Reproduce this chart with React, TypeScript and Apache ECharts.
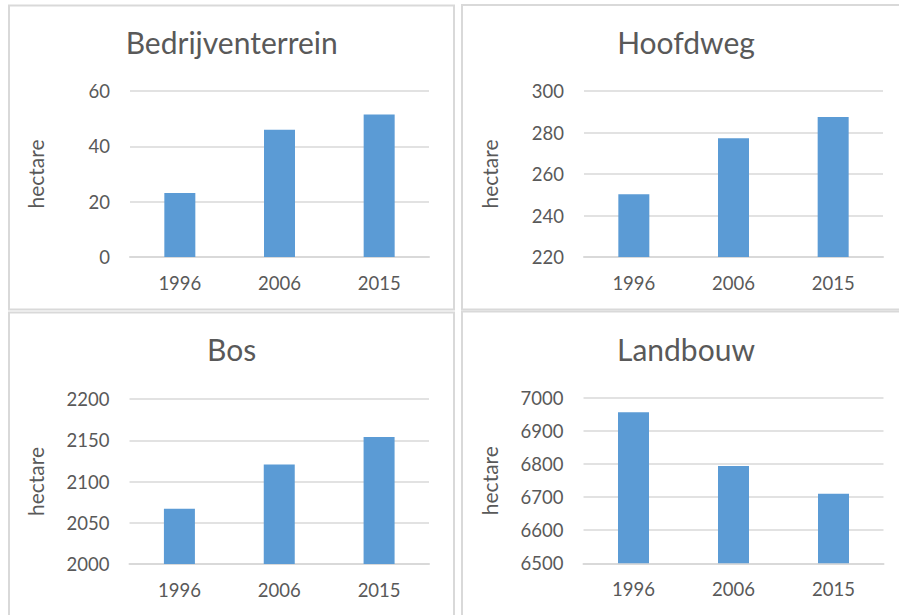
import React, { useEffect, useRef } from "react";
import * as echarts from "echarts";

const years = ["1996", "2006", "2015"];
const titles = ["Bedrijventerrein", "Hoofdweg", "Bos", "Landbouw"];
const bedrijventerrein = [23.1, 46.0, 51.5];
const hoofdweg = [250.2, 277.2, 287.5];
const bos = [2067, 2120.5, 2154];
const landbouw = [6957, 6794, 6710];
const axisMin = [0, 220, 2000, 6500];
const axisMax = [60, 300, 2200, 7000];
const axisStep = [20, 20, 50, 100];
const yName = "hectare";

const seriesValues = [bedrijventerrein, hoofdweg, bos, landbouw];

const FONT = "Lato";
const TEXT = "#595959";
const LINE = "#D9D9D9";
const BAR = "#5B9BD5";

const grids = [
  { left: 130, top: 91, width: 299, height: 166 },
  { left: 584, top: 91, width: 299, height: 166 },
  { left: 129.5, top: 399, width: 299.5, height: 165 },
  { left: 583.5, top: 398, width: 300, height: 165.3 },
];
const titlePos = [
  [231.7, 42],
  [686, 42],
  [231.7, 348.5],
  [686, 348.5],
];
const borders = [
  { x: 9, y: 5.5, width: 445, height: 304 },
  { x: 462, y: 5, width: 440, height: 304.5 },
  { x: 9, y: 312.5, width: 445, height: 310 },
  { x: 462, y: 311.5, width: 440, height: 310 },
];

export default function App() {
  const ref = useRef<HTMLDivElement>(null);
  useEffect(() => {
    if (!ref.current) return;
    const chart = echarts.init(ref.current, undefined, { renderer: "svg" });
    const option: any = {
      animation: false,
      backgroundColor: "#ffffff",
      grid: grids.map((g) => ({ ...g, containLabel: false })),
      xAxis: grids.map((_, i) => ({
        type: "category",
        gridIndex: i,
        data: years,
        axisTick: { show: false },
        axisLine: { show: true, lineStyle: { color: LINE, width: 2 } },
        axisLabel: { color: TEXT, fontFamily: FONT, fontSize: 18.5, margin: 16 },
      })),
      yAxis: grids.map((_, i) => ({
        type: "value",
        gridIndex: i,
        min: axisMin[i],
        max: axisMax[i],
        interval: axisStep[i],
        name: yName,
        nameLocation: "middle",
        nameRotate: 90,
        nameGap: 84,
        nameTextStyle: { color: TEXT, fontFamily: FONT, fontSize: 21 },
        axisLine: { show: false },
        axisTick: { show: false },
        axisLabel: {
          color: TEXT,
          fontFamily: FONT,
          fontSize: 18.5,
          margin: 20,
          formatter: (v: number) => String(v),
        },
        splitLine: { show: true, lineStyle: { color: LINE, width: 1.5 } },
      })),
      series: seriesValues.map((vals, i) => ({
        type: "bar",
        name: titles[i],
        xAxisIndex: i,
        yAxisIndex: i,
        data: vals,
        barWidth: 31,
        itemStyle: { color: BAR },
      })),
      graphic: [
        ...borders.map((b) => ({
          type: "rect",
          shape: b,
          silent: true,
          z: -1,
          style: { fill: "none", stroke: LINE, lineWidth: 2 },
        })),
        ...titles.map((t, i) => ({
          type: "text",
          x: titlePos[i][0],
          y: titlePos[i][1],
          style: {
            text: t,
            fill: TEXT,
            font: `30px ${FONT}`,
            textAlign: "center",
            textVerticalAlign: "middle",
          },
        })),
      ],
    };
    chart.setOption(option);
    return () => chart.dispose();
  }, []);
  return (
    <div
      ref={ref}
      style={{ position: "fixed", left: 0, top: 0, width: 899, height: 615 }}
    />
  );
}
